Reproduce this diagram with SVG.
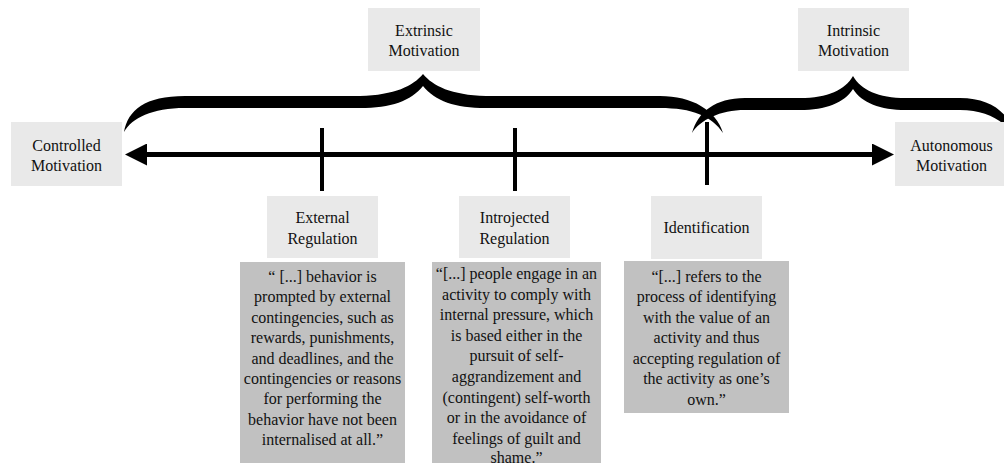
<svg xmlns="http://www.w3.org/2000/svg" width="1004" height="463" viewBox="0 0 1004 463">
  <style>
    .label { fill: #e9e9e9; }
    .quote { fill: #c1c1c1; }
    text { font-family: "Liberation Serif", "Times New Roman", serif; font-size: 16px; fill: #111; text-anchor: middle; }
    .axis { stroke: #000; stroke-width: 5; fill: none; }
    .tick { stroke: #000; stroke-width: 4; fill: none; }
    .brace { fill: #000; }
  </style>
  <defs>
    <!-- solid triangular head; its base sits on the line end, tip points outward -->
    <marker id="head" viewBox="0 0 22 22" refX="0" refY="11" markerWidth="22" markerHeight="22" markerUnits="userSpaceOnUse" orient="auto-start-reverse">
      <path d="M0,0 L22,11 L0,22 Z" fill="#000"/>
    </marker>
  </defs>

  <rect width="1004" height="463" fill="#fff"/>

  <!-- connectors: the continuum axis, its ticks and the two braces -->
  <g id="connectors">
    <line class="axis" x1="147" y1="154.5" x2="872" y2="154.5" marker-start="url(#head)" marker-end="url(#head)"/>
    <line class="tick" x1="322" y1="128" x2="322" y2="191"/>
    <line class="tick" x1="515" y1="128" x2="515" y2="191"/>
    <line class="tick" x1="707" y1="122" x2="707" y2="185"/>
    <!-- brace spanning extrinsic motivation -->
    <path class="brace" d="M124,132 C128,110 145,96 185,96 L360,96 C395,95 413,86 423,74 C433,86 451,95 486,96 L660,96 C692,96 716,110 723,133 C712,116 692,108 660,108 L486,108 C455,108 435,101 423,86 C411,101 391,108 360,108 L185,108 C152,108 132,118 124,132 Z"/>
    <!-- brace spanning intrinsic motivation -->
    <path class="brace" d="M692,133 C698,112 715,98 745,98 L800,98 C828,98 845,90 853,76 C861,90 878,98 906,98 L960,98 C990,98 1008,112 1014,133 C1000,119 985,110 960,110 L906,110 C880,110 862,103 853,89 C844,103 826,110 800,110 L745,110 C720,110 700,120 692,133 Z"/>
  </g>

  <g id="extrinsic">
    <rect class="label" x="368" y="8" width="112" height="63"/>
    <text x="424" y="35.5">Extrinsic</text>
    <text x="424" y="56">Motivation</text>
  </g>

  <g id="intrinsic">
    <rect class="label" x="798" y="8" width="111" height="63"/>
    <text x="853.5" y="35.5">Intrinsic</text>
    <text x="853.5" y="56">Motivation</text>
  </g>

  <g id="controlled">
    <rect class="label" x="11" y="122" width="111" height="64"/>
    <text x="66.5" y="150.5">Controlled</text>
    <text x="66.5" y="171">Motivation</text>
  </g>

  <g id="autonomous">
    <rect class="label" x="895" y="122" width="113" height="64"/>
    <text x="951.5" y="150.5">Autonomous</text>
    <text x="951.5" y="171">Motivation</text>
  </g>

  <g id="external">
    <rect class="label" x="267" y="196" width="111" height="62"/>
    <text x="322.5" y="223">External</text>
    <text x="322.5" y="244">Regulation</text>
  </g>

  <g id="introjected">
    <rect class="label" x="459" y="196" width="111" height="62"/>
    <text x="514.5" y="223">Introjected</text>
    <text x="514.5" y="244">Regulation</text>
  </g>

  <g id="identification">
    <rect class="label" x="651" y="196" width="111" height="63"/>
    <text x="706.5" y="233">Identification</text>
  </g>

  <g id="external-quote">
    <rect class="quote" x="240" y="262" width="165" height="201"/>
    <text x="322.5" y="282">“ [...] behavior is</text>
    <text x="322.5" y="302.4">prompted by external</text>
    <text x="322.5" y="322.8">contingencies, such as</text>
    <text x="322.5" y="343.2">rewards, punishments,</text>
    <text x="322.5" y="363.6">and deadlines, and the</text>
    <text x="322.5" y="384">contingencies or reasons</text>
    <text x="322.5" y="404.4">for performing the</text>
    <text x="322.5" y="424.8">behavior have not been</text>
    <text x="322.5" y="445.2">internalised at all.”</text>
  </g>

  <g id="introjected-quote">
    <rect class="quote" x="432" y="262" width="169" height="201"/>
    <text x="516.5" y="279">“[...] people engage in an</text>
    <text x="516.5" y="299.6">activity to comply with</text>
    <text x="516.5" y="320.2">internal pressure, which</text>
    <text x="516.5" y="340.8">is based either in the</text>
    <text x="516.5" y="361.4">pursuit of self-</text>
    <text x="516.5" y="382">aggrandizement and</text>
    <text x="516.5" y="402.6">(contingent) self-worth</text>
    <text x="516.5" y="423.2">or in the avoidance of</text>
    <text x="516.5" y="443.8">feelings of guilt and</text>
    <text x="516.5" y="462.5">shame.”</text>
  </g>

  <g id="identification-quote">
    <rect class="quote" x="624" y="261" width="165" height="152"/>
    <text x="706.5" y="281.5">“[...] refers to the</text>
    <text x="706.5" y="302">process of identifying</text>
    <text x="706.5" y="322.5">with the value of an</text>
    <text x="706.5" y="343">activity and thus</text>
    <text x="706.5" y="363.5">accepting regulation of</text>
    <text x="706.5" y="384">the activity as one’s</text>
    <text x="706.5" y="404.5">own.”</text>
  </g>
</svg>
